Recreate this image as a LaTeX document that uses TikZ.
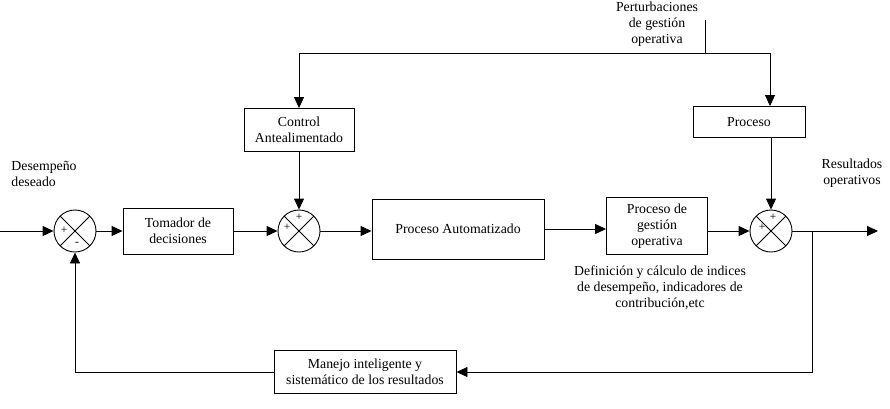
\documentclass[tikz,border=0pt]{standalone}
\usepackage{fontspec}
\setmainfont{Liberation Serif}
\usetikzlibrary{arrows.meta,positioning,calc}

\begin{document}
\begin{tikzpicture}[x=1pt, y=-1pt,
    block/.style={rectangle, draw, line width=0.9pt, align=center, inner sep=1pt,
        font=\fontsize{13.8}{16}\selectfont},
    sumnode/.style={circle, draw, line width=0.9pt, minimum size=42pt, inner sep=0pt,
        path picture={\draw[line width=0.9pt]
            (path picture bounding box.north west) -- (path picture bounding box.south east)
            (path picture bounding box.north east) -- (path picture bounding box.south west);}},
    sign/.style={inner sep=0pt, font=\fontsize{11.5}{11.5}\selectfont},
    txt/.style={align=center, inner sep=0pt, font=\fontsize{13.8}{16}\selectfont},
    >={Triangle[length=11pt,width=10pt]}, line width=0.9pt
]
\useasboundingbox (0,0) rectangle (890,408);

\node[sumnode] (sum1) at (75,231) {};
\node[block, minimum width=110pt, minimum height=46pt] (tom) at (178,231) {Tomador de\\decisiones};
\node[sumnode] (sum2) at (299,231) {};
\node[block, minimum width=172pt, minimum height=60pt] (pa) at (458,229) {Proceso Automatizado};
\node[block, minimum width=101pt, minimum height=57pt] (pgo) at (657,226) {Proceso de\\gestión\\operativa};
\node[sumnode] (sum3) at (771,231) {};
\node[block, minimum width=110pt, minimum height=43pt] (ca) at (299,130) {Control\\Antealimentado};
\node[block, minimum width=112pt, minimum height=31pt] (pr) at (749,122) {Proceso};
\node[block, minimum width=182pt, minimum height=43pt] (man) at (365,372) {Manejo inteligente y\\sistemático de los resultados};

\node[sign] (s1a) at ($(sum1)+(-11,-1)$) {+};
\node[sign] (s1b) at ($(sum1)+(2,13)$) {-};
\node[sign] (s2a) at ($(sum2)+(0,-14)$) {+};
\node[sign] (s2b) at ($(sum2)+(-12,-4)$) {+};
\node[sign] (s3a) at ($(sum3)+(2,-14)$) {+};
\node[sign] (s3b) at ($(sum3)+(-9,-4)$) {+};

\node[txt, align=left, anchor=west] (dd) at (11,174) {Desempeño\\deseado};
\node[txt] (ro) at (852,173) {Resultados\\operativos};
\node[txt] (pert) at (657,24) {Perturbaciones\\de gestión\\operativa};
\node[txt] (defi) at (660,288) {Definición y cálculo de indices\\de desempeño, indicadores de\\contribución,etc};

\coordinate (in) at (0,231);
\coordinate (out) at (878,231);
\coordinate (fb) at (812,231);
\coordinate (ptop) at (705,20);
\coordinate (jl) at (299,53);
\coordinate (jr) at (770,53);

\draw[->] (in) -- (sum1);
\draw[->] (sum1) -- (tom);
\draw[->] (tom) -- (sum2);
\draw[->] (sum2) -- (sum2 -| pa.west);
\draw[->] (pa.east) -- (pa.east -| pgo.west);
\draw[->] (pgo.east |- sum3) -- (sum3);
\draw[->] (sum3) -- (out);
\draw[->] (fb) |- (man);
\draw[->] (man) -| (sum1);
\draw (ptop) -- (ptop |- jl);
\draw (jl) -- (jr);
\draw[->] (jl) -- (ca);
\draw[->] (jr) -- (jr |- pr.north);
\draw[->] (ca) -- (sum2);
\draw[->] (pr.south -| sum3) -- (sum3);
\end{tikzpicture}
\end{document}
